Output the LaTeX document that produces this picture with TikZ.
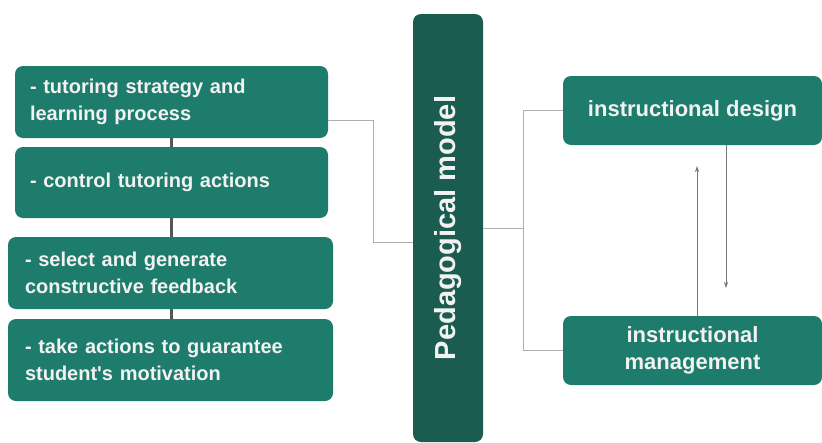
\documentclass[tikz,border=0pt]{standalone}
\usepackage{fontspec}
\setmainfont{Liberation Sans}
\usetikzlibrary{arrows.meta,calc}
\definecolor{teal1}{RGB}{30,124,108}
\definecolor{teal2}{RGB}{26,92,80}
\definecolor{txt}{RGB}{242,242,242}
\definecolor{conn}{RGB}{175,175,175}
\definecolor{spine}{RGB}{85,85,85}
\begin{document}
\begin{tikzpicture}[x=1pt,y=-1pt,
  lbox/.style={fill=teal1, rounded corners=8pt, text=txt, font=\bfseries\fontsize{20}{27}\selectfont,
     align=left, inner xsep=15pt, inner ysep=0pt, anchor=center},
  rbox/.style={fill=teal1, rounded corners=8pt, text=txt, font=\bfseries\fontsize{22}{27}\selectfont,
     align=center, inner sep=0pt, minimum width=259pt, minimum height=69pt},
  thin/.style={draw=conn, line width=0.8pt},
  spineline/.style={draw=spine, line width=3pt},
  arr/.style={draw=spine!80, line width=0.8pt, -{Stealth[length=6pt,width=4pt]}}]
\useasboundingbox (0,0) rectangle (822,442);
\fill[white] (0,0) rectangle (822,442);
% spine
\draw[spineline] (171.5,110) -- (171.5,350);
% left boxes
\node[lbox, minimum width=313pt, minimum height=72pt, text width=283pt] (b1) at (171.5,102) {- tutoring strategy and\\learning process};
\node[lbox, minimum width=313pt, minimum height=71pt, text width=283pt] (b2) at (171.5,182.5) {- control tutoring actions};
\node[lbox, minimum width=321pt, minimum height=72pt, text width=291pt, inner xsep=17pt] (b3) at (170.5,273) {- select and generate\\constructive feedback};
\node[lbox, minimum width=321pt, minimum height=82pt, text width=291pt, inner xsep=17pt] (b4) at (170.5,360) {- take actions to guarantee\\student\textquotesingle s motivation};
% central
\node[fill=teal2, rounded corners=8pt, minimum width=70pt, minimum height=428pt, inner sep=0pt] (pm) at (448,228) {};
\node[rotate=90, text=txt, font=\bfseries\fontsize{29}{34}\selectfont] (pmt) at (pm.center) {Pedagogical model};
% right boxes
\node[rbox] (rd) at (692.5,110.5) {instructional design};
\node[rbox] (rm) at (692.5,350.5) {instructional\\management};
% connectors
\draw[thin] ([yshift=-18pt]b1.east) -- ++(45,0) |- ([yshift=-14pt]pm.west);
\draw[thin] (pm.east) -- ++(40,0) coordinate (j);
\draw[thin] (rd.west) -| (j) |- (rm.west);
% arrows
\draw[arr] ([xshift=4.5pt]rm.north) -- ([xshift=4.5pt]rm.north |- 0,166);
\draw[arr] ([xshift=33.5pt]rd.south) -- ([xshift=33.5pt]rd.south |- 0,288);
\end{tikzpicture}
\end{document}
